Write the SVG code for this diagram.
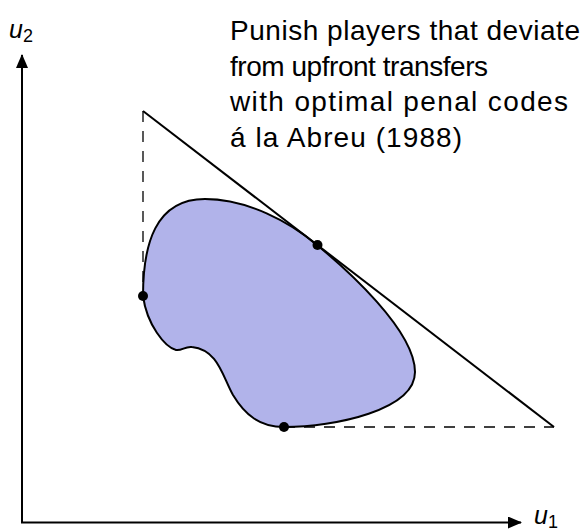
<svg xmlns="http://www.w3.org/2000/svg" width="584" height="532" viewBox="0 0 584 532">
<style>
.txt{font-family:"Liberation Sans","DejaVu Sans",sans-serif;font-size:28px;fill:#000}
.lab{font-family:"Liberation Sans","DejaVu Sans",sans-serif;fill:#000}
.ln{stroke:#000;stroke-width:2;fill:none}
.dash{stroke:#000;stroke-width:1.3;fill:none;stroke-dasharray:11,9}
.dot{fill:#000}
</style>
<defs>
<marker id="arr" viewBox="0 0 14 12" refX="13" refY="6" markerWidth="14" markerHeight="12" markerUnits="userSpaceOnUse" orient="auto">
<path d="M0,0 L14,6 L0,12 Z" fill="#000"/>
</marker>
</defs>
<g id="axes">
<path class="ln" d="M22,523 L22,55" marker-end="url(#arr)"/>
<path class="ln" d="M21,522.5 L521,522.5" marker-end="url(#arr)"/>
</g>
<g id="labels">
<text class="lab" x="9" y="38" font-size="25" font-style="italic">u<tspan font-size="18" font-style="normal" dy="4">2</tspan></text>
<text class="lab" x="534" y="524" font-size="25" font-style="italic">u<tspan font-size="18" font-style="normal" dy="4">1</tspan></text>
</g>
<g id="blob">
<path d="M143,296 C143,245 155,199 205,199 C247,199 290,222 317,245 C345,268 415,330 415,372 C415,410 335,427 284,427 C260,427 245,415 233,395 C222,375 218,350 192,347 C185,346 182,351 176,350 C165,347 147,325 143,296 Z" fill="#b1b3ea" stroke="#000" stroke-width="2"/>
</g>
<g id="connectors">
<path class="ln" d="M143,111 L554,427"/>
<path class="dash" d="M143,111 L143,296"/>
<path class="dash" d="M284,427 L554,427"/>
</g>
<g id="points">
<circle class="dot" cx="143" cy="296" r="5"/>
<circle class="dot" cx="317.5" cy="245" r="5"/>
<circle class="dot" cx="284" cy="427" r="5"/>
</g>
<g id="caption">
<text class="txt" x="230" y="40" textLength="350" lengthAdjust="spacing">Punish players that deviate</text>
<text class="txt" x="230" y="75.5" textLength="258" lengthAdjust="spacing">from upfront transfers</text>
<text class="txt" x="230" y="111" textLength="338" lengthAdjust="spacing">with optimal penal codes</text>
<text class="txt" x="230" y="146.5" textLength="232" lengthAdjust="spacing">á la Abreu (1988)</text>
</g>
</svg>
